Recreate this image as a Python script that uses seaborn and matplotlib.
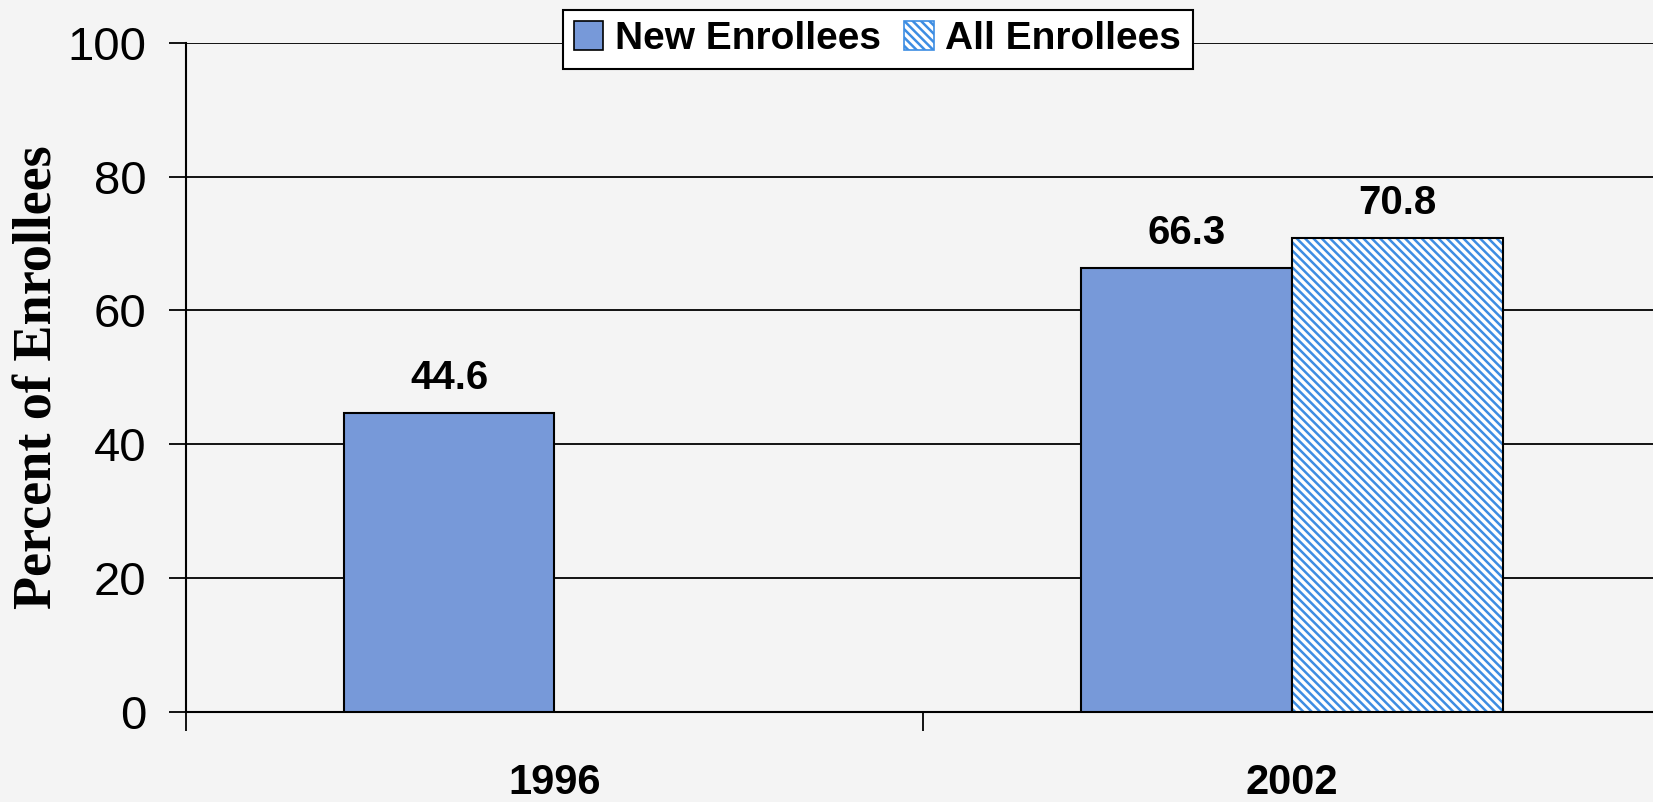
import numpy as np
import pandas as pd
import seaborn as sns
import matplotlib.pyplot as plt
from matplotlib.patches import Rectangle, Patch

# data
years = ["1996", "2002", "2002"]
groups = ["New Enrollees", "New Enrollees", "All Enrollees"]
values = [44.6, 66.3, 70.8]
hue_order = ["New Enrollees", "All Enrollees"]
yticks = [0, 20, 40, 60, 80, 100]

df = pd.DataFrame({"year": years, "group": groups, "pct": values})

sns.set_style("white")
plt.rcParams['font.family'] = ['Liberation Sans', 'DejaVu Sans']
plt.rcParams['hatch.linewidth'] = 1.8
for k in ['text.color', 'axes.labelcolor', 'xtick.color', 'ytick.color']:
    plt.rcParams[k] = 'black'

bg = "#f4f4f4"
new_color = "#7799d9"
hatch_color = "#3d8de3"

fig = plt.figure(figsize=(16.53, 8.02), dpi=100, facecolor=bg)
ax = fig.add_axes([185.5 / 1653, 1 - 711.6 / 802, (1661 - 185.5) / 1653, (711.6 - 43) / 802])
ax.set_facecolor(bg)

sns.barplot(data=df, x="year", y="pct", hue="group", hue_order=hue_order,
            palette=[new_color, "white"], width=0.571, edgecolor="black",
            linewidth=1.5, saturation=1, legend=False, ax=ax, zorder=3)

# hatch the "All Enrollees" bars, keep black outline on top
for bars, name in zip(ax.containers, hue_order):
    ax.bar_label(bars, fmt="%.1f", padding=12, fontsize=29, fontweight="bold")
    if name == "All Enrollees":
        for p in bars:
            p.set_hatch("\\\\\\\\")
            p.set_edgecolor(hatch_color)
            p.set_linewidth(0)
            ax.add_patch(Rectangle(p.get_xy(), p.get_width(), p.get_height(),
                                   fill=False, edgecolor="black", linewidth=1.5, zorder=4))

ax.set_ylim(0, 100)
ax.set_xlim(-0.5, 1.5)
ax.set_yticks(yticks)
ax.yaxis.grid(True, color="black", linewidth=1.3)
ax.set_axisbelow(True)
ax.tick_params(axis="y", labelsize=34, length=12, width=1.3, color="black", pad=16, left=True)

ax.set_xticks([-0.5, 0.5, 1.5])
ax.set_xticklabels(["", "", ""])
ax.tick_params(axis="x", which="major", length=14, width=1.3, color="black", bottom=True)
ax.set_xticks([0, 1], minor=True)
ax.set_xticklabels(["1996", "2002"], minor=True, fontsize=30, fontweight="bold")
ax.tick_params(axis="x", which="minor", length=0, pad=37)

for s in ["top", "right"]:
    ax.spines[s].set_visible(False)
for s in ["left", "bottom"]:
    ax.spines[s].set_color("black")
    ax.spines[s].set_linewidth(1.5)

ax.set_xlabel("")
ax.set_ylabel("Percent of Enrollees", fontsize=39, fontweight="bold",
              family="Liberation Serif", labelpad=3)

handles = [Patch(facecolor=new_color, edgecolor="black", linewidth=1.2),
           Patch(facecolor="white", edgecolor=hatch_color, hatch="\\\\\\\\", linewidth=1.2)]
leg = fig.legend(handles, hue_order, loc="center", bbox_to_anchor=(0.531, 0.951),
                 ncol=2, frameon=True, fancybox=False, prop={"size": 28, "weight": "bold"},
                 handlelength=0.75, handleheight=0.75, handletextpad=0.3, columnspacing=0.6,
                 borderpad=0.3, edgecolor="black", facecolor="white", framealpha=1)
leg.get_frame().set_linewidth(1.5)

fig.savefig("out.png", dpi=100, facecolor=bg)
